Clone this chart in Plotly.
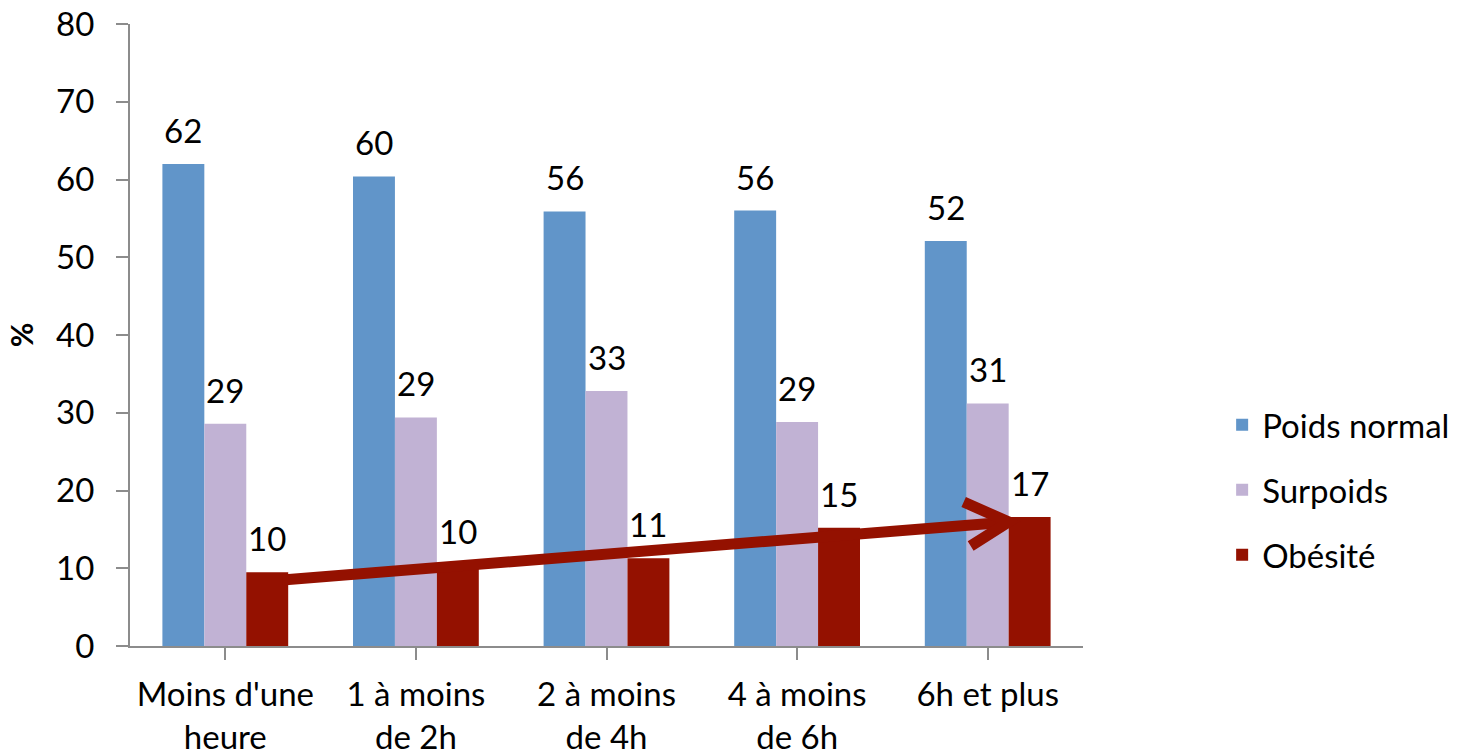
import plotly.graph_objects as go

categories = ["Moins d'une<br>heure", "1 à moins<br>de 2h", "2 à moins<br>de 4h", "4 à moins<br>de 6h", "6h et plus"]
series_names = ["Poids normal", "Surpoids", "Obésité"]
poids_normal = [62.0, 60.4, 55.9, 56.0, 52.1]
surpoids = [28.6, 29.4, 32.8, 28.8, 31.2]
obesite = [9.5, 10.4, 11.3, 15.2, 16.6]
colors = ["#6195C9", "#C1B2D4", "#941100"]

# trend arrow (data units: category index, %)
arrow_start = (0.30, 8.5)
arrow_end = (4.11, 15.95)

FONT = "Lato"
FS = 33
AXIS_COLOR = "#8C8C8C"

values = [poids_normal, surpoids, obesite]
bargap = 0.34
bw = (1 - bargap) / 3

fig = go.Figure()
for j, (name, vals, col) in enumerate(zip(series_names, values, colors)):
    fig.add_trace(go.Bar(
        x=list(range(len(categories))), y=vals, name=name,
        marker=dict(color=col, line=dict(width=0)),
        legendgroup=name,
    ))

annotations = []
for j, vals in enumerate(values):
    for i, v in enumerate(vals):
        annotations.append(dict(
            x=i + (j - 1) * bw, y=v, xref="x", yref="y",
            text=f"{v:.0f}", showarrow=False, yanchor="bottom",
            yshift=12, font=dict(family=FONT, size=FS, color="#000000"),
        ))

shapes = [
    dict(type="line", xref="x", yref="y",
         x0=arrow_start[0], y0=arrow_start[1], x1=arrow_end[0], y1=arrow_end[1],
         line=dict(color=colors[2], width=11), layer="above"),
    dict(type="path", xref="x", yref="y", xsizemode="pixel", ysizemode="pixel",
         xanchor=arrow_end[0], yanchor=arrow_end[1],
         path="M-45,20 L0,0 L-38,-24",
         line=dict(color=colors[2], width=11), layer="above"),
]

fig.update_layout(
    width=1463, height=753,
    margin=dict(l=130, r=380, t=24, b=107, autoexpand=False),
    paper_bgcolor="white", plot_bgcolor="white",
    barmode="group", bargap=bargap, bargroupgap=0,
    font=dict(family=FONT, size=FS, color="#000000"),
    showlegend=True,
    legend=dict(x=1.146, xanchor="left", y=0.251, yanchor="middle",
                font=dict(family=FONT, size=FS), tracegroupgap=19,
                bgcolor="rgba(0,0,0,0)"),
    annotations=annotations,
    shapes=shapes,
    xaxis=dict(
        tickmode="array", tickvals=list(range(len(categories))), ticktext=categories,
        range=[-0.5, len(categories) - 0.5],
        showline=True, linecolor=AXIS_COLOR, linewidth=2,
        ticks="outside", ticklen=12, tickcolor=AXIS_COLOR, tickwidth=2,
        showgrid=False, zeroline=False, automargin=False,
        tickfont=dict(family=FONT, size=FS),
        ticklabelstandoff=6,
    ),
    yaxis=dict(
        range=[0, 80], dtick=10, tick0=0,
        showline=True, linecolor=AXIS_COLOR, linewidth=2,
        ticks="outside", ticklen=12, tickcolor=AXIS_COLOR, tickwidth=2,
        showgrid=False, zeroline=False, automargin=False,
        tickfont=dict(family=FONT, size=FS),
        ticklabelstandoff=15,
        title=dict(text="<b>%</b>", font=dict(family=FONT, size=30), standoff=14),
    ),
)

fig.write_html("out.html")
